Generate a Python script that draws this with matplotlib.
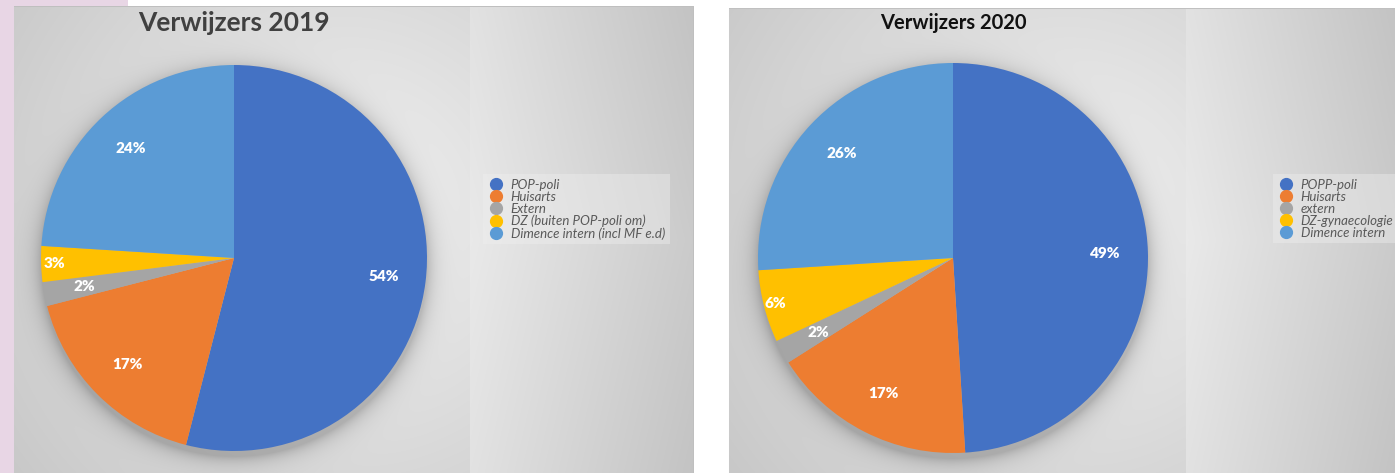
import numpy as np
import matplotlib.pyplot as plt
from matplotlib.lines import Line2D

labels_2019 = ['POP-poli', 'Huisarts', 'Extern', 'DZ (buiten POP-poli om)',
               'Dimence intern (incl MF e.d)']
values_2019 = [54, 17, 2, 3, 24]
labels_2020 = ['POPP-poli', 'Huisarts', 'extern', 'DZ-gynaecologie', 'Dimence intern']
values_2020 = [49, 17, 2, 6, 26]
colors = ['#4472C4', '#ED7D31', '#A5A5A5', '#FFC000', '#5B9BD5']
# how far out each percentage sits (fraction of radius)
label_dist_2019 = [0.78, 0.78, 0.79, 0.93, 0.78]
label_dist_2020 = [0.78, 0.78, 0.79, 0.94, 0.78]

W, H = 1395, 473
plt.rcParams['font.family'] = ['Lato', 'DejaVu Sans']

fig = plt.figure(figsize=(W / 100, H / 100), dpi=100)

# ---- background picture (pink strip, grey gradient panels, pie shadows)
yy, xx = np.mgrid[0:H, 0:W].astype(float)
img = np.ones((H, W, 3))
pink = np.array([0.91, 0.84, 0.90])
img[:, :14] = pink
img[:7, :128] = pink


def panel(x0, x1, y0, split, pcx, pcy, R):
    main = (xx >= x0) & (xx < split) & (yy >= y0)
    side = (xx >= split) & (xx < x1) & (yy >= y0)
    d = np.hypot(xx - (pcx + 110), yy - (pcy - 40))
    g = 0.95 - 0.17 * np.clip(d / 430, 0, 1)
    ds = np.hypot(xx - pcx, yy - (pcy + 5))
    g = g - 0.18 * np.exp(-np.clip(ds - R, 0, None) / 9)
    gs = 0.915 - 0.12 * (xx - split) / (x1 - split) - 0.03 * np.abs(yy - 240) / 240
    for c in range(3):
        img[..., c][main] = g[main]
        img[..., c][side] = gs[side]
    edge = (xx >= x0) & (xx < x1) & ((yy == y0) | (xx == x1 - 1)) & (yy >= y0)
    img[edge] = 0.75


panel(14, 694, 7, 470, 234, 258, 193)
panel(729, 1396, 9, 1186, 953, 258, 195)

bg = fig.add_axes([0, 0, 1, 1])
bg.imshow(img, extent=(0, W, H, 0), aspect='auto', interpolation='bilinear')
bg.set_xlim(0, W)
bg.set_ylim(H, 0)
bg.axis('off')


def draw_pie(cx, cy, R, values, dists):
    ax = fig.add_axes([(cx - R) / W, (H - cy - R) / H, 2 * R / W, 2 * R / H])
    wedges, _ = ax.pie(values, colors=colors, startangle=90, counterclock=False,
                       radius=1, wedgeprops=dict(linewidth=0))
    for w, v, d in zip(wedges, values, dists):
        mid = np.deg2rad((w.theta1 + w.theta2) / 2)
        ax.text(d * np.cos(mid), d * np.sin(mid), f'{v}%', ha='center', va='center',
                color='white', fontsize=11, fontweight='heavy')
    ax.set_xlim(-1, 1)
    ax.set_ylim(-1, 1)
    ax.axis('off')


draw_pie(234, 258, 193, values_2019, label_dist_2019)
draw_pie(953, 258, 195, values_2020, label_dist_2020)

fig.text(234 / W, 1 - 23 / H, 'Verwijzers 2019', ha='center', va='center',
         fontsize=19, fontweight='bold', color='#404040')
fig.text(953 / W, 1 - 23 / H, 'Verwijzers 2020', ha='center', va='center',
         fontsize=14.5, fontweight='bold', color='#111111')


def legend(labels, x, y):
    handles = [Line2D([], [], marker='o', linestyle='', markersize=8.5,
                      markerfacecolor=c, markeredgecolor=c) for c in colors]
    lg = fig.legend(handles, labels, loc='upper left',
                    bbox_to_anchor=(x / W, 1 - y / H), frameon=True,
                    fontsize=9.5, labelspacing=0.0, handletextpad=0.55,
                    borderpad=0.35, handlelength=1.2, borderaxespad=0)
    lg.get_frame().set_facecolor('#f0f0f0')
    lg.get_frame().set_alpha(0.4)
    lg.get_frame().set_edgecolor('none')
    lg.get_frame().set_boxstyle('square', pad=0)
    for t in lg.get_texts():
        t.set_color('#595959')
        t.set_fontstyle('italic')


legend(labels_2019, 483, 174)
legend(labels_2020, 1273, 174)

fig.savefig('out.png', dpi=100)
